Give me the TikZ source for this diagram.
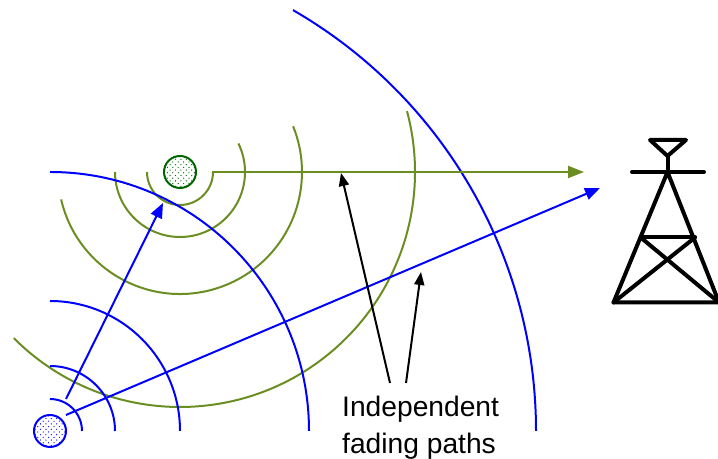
\documentclass[tikz,border=0pt]{standalone}
\usepackage{fontspec}
\setmainfont{Liberation Sans}
\usetikzlibrary{arrows.meta,patterns}
\pgfdeclarepatternformonly{coarsedots}{\pgfqpoint{-1bp}{-1bp}}{\pgfqpoint{4.4bp}{4.4bp}}{\pgfqpoint{5.4bp}{5.4bp}}{
  \pgfpathcircle{\pgfqpoint{0bp}{0bp}}{0.65bp}
  \pgfpathcircle{\pgfqpoint{2.7bp}{2.7bp}}{0.65bp}
  \pgfusepath{fill}
}
\tikzset{
  x=1bp,y=1bp,
  bluewave/.style={draw=blue,line width=2bp},
  greenwave/.style={draw=olive1,line width=2bp},
  bluearrow/.style={bluewave,-{Triangle[length=15bp,width=12bp]}},
  greenarrow/.style={greenwave,-{Triangle[length=16bp,width=12bp]}},
  blackarrow/.style={draw=black,line width=2bp,-{Triangle[length=13bp,width=10bp]}},
  tower/.style={draw=black,line width=4bp,line cap=round,line join=round},
  station/.style={circle,minimum size=32bp,inner sep=0pt,line width=2bp},
  caption/.style={font=\fontsize{28.2bp}{37bp}\selectfont,align=left,inner sep=0pt}
}
\definecolor{olive1}{HTML}{6B8E23}
\definecolor{darkgreen1}{HTML}{006400}
\begin{document}
\begin{tikzpicture}
\useasboundingbox (0,0) rectangle (718,459);
% centres
\coordinate (bc) at (50,28);
\coordinate (gc) at (180,287);
% green waves
\draw[greenwave] ([shift={(180:33)}]gc) arc[start angle=180,end angle=360,radius=33];
\draw[greenwave] ([shift={(180:65)}]gc) arc[start angle=180,end angle=386,radius=65];
\draw[greenwave] ([shift={(193:122)}]gc) arc[start angle=193,end angle=382,radius=122];
\draw[greenwave] ([shift={(225:235)}]gc) arc[start angle=225,end angle=375,radius=235];
% blue waves
\draw[bluewave] ([shift={(90:32)}]bc) arc[start angle=90,end angle=0,radius=32];
\draw[bluewave] ([shift={(90:65)}]bc) arc[start angle=90,end angle=0,radius=65];
\draw[bluewave] ([shift={(90:130)}]bc) arc[start angle=90,end angle=0,radius=130];
\draw[bluewave] ([shift={(90:259)}]bc) arc[start angle=90,end angle=0,radius=259];
\draw[bluewave] ([shift={(60:486)}]bc) arc[start angle=60,end angle=0,radius=486];
% stations
\node[station,draw=blue,pattern=coarsedots,pattern color=blue] (src) at (bc) {};
\node[station,draw=darkgreen1,pattern=coarsedots,pattern color=darkgreen1] (rel) at (gc) {};
% free ends
\coordinate (gs) at (212,287);
\coordinate (ge) at (584,287);
\coordinate (b1s) at (66,60);
\coordinate (b1e) at (163,256);
\coordinate (b2s) at (66,44);
\coordinate (b2e) at (600,271);
\coordinate (k1s) at (390,76);
\coordinate (k1e) at (341,286);
\coordinate (k2s) at (406,76);
\coordinate (k2e) at (421,187);
\draw[greenarrow] (gs) -- (ge);
\draw[bluearrow] (b1s) -- (b1e);
\draw[bluearrow] (b2s) -- (b2e);
\draw[blackarrow] (k1s) -- (k1e);
\draw[blackarrow] (k2s) -- (k2e);
% caption
\node[caption,anchor=base west] (lab) at (342,5) {Independent\\fading paths};
% tower
\coordinate (a1) at (650,319);
\coordinate (a2) at (686,319);
\coordinate (a3) at (667.5,303);
\coordinate (a4) at (667.5,287);
\coordinate (c1) at (632,287);
\coordinate (c2) at (704,287);
\coordinate (l1) at (613.5,156.5);
\coordinate (l2) at (719,156.5);
\coordinate (m1) at (640.7,221.5);
\coordinate (m2) at (695,221.5);
\draw[tower] (a1) -- (a2) -- (a3) -- cycle;
\draw[tower] (a3) -- (a4);
\draw[tower] (c1) -- (c2);
\draw[tower] (l1) -- (a4) -- (l2) -- cycle;
\draw[tower] (m1) -- (m2);
\draw[tower] (m1) -- (l2);
\draw[tower] (m2) -- (l1);
\end{tikzpicture}
\end{document}
